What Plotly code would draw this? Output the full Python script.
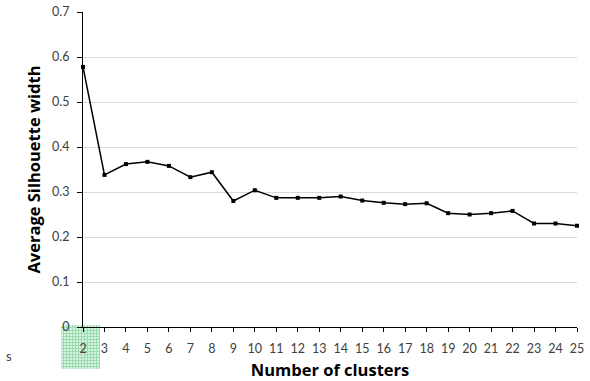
import base64
import plotly.graph_objects as go

# Average silhouette width for each number of clusters
clusters = list(range(2, 26))
silhouette = [0.578, 0.338, 0.362, 0.367, 0.358, 0.333, 0.344, 0.280,
              0.304, 0.287, 0.287, 0.287, 0.290, 0.281, 0.276, 0.273,
              0.275, 0.253, 0.250, 0.253, 0.258, 0.230, 0.230, 0.225]

y_ticks = [0, 0.1, 0.2, 0.3, 0.4, 0.5, 0.6, 0.7]
y_tick_labels = ["0", "0.1", "0.2", "0.3", "0.4", "0.5", "0.6", "0.7"]

TICK_FONT = "Lato"
TITLE_FONT = "Open Sans"
TICK_COLOR = "#404040"

fig = go.Figure()
fig.add_trace(go.Scatter(
    x=clusters, y=silhouette, mode="lines+markers",
    line=dict(color="#000000", width=1.5),
    marker=dict(symbol="square", size=4, color="#000000"),
    cliponaxis=False, showlegend=False,
))

# small green checked selection swatch under the first category
cell = 3
w, h = 39, 44
rects = []
for i in range(0, w, cell):
    for j in range(0, h, cell):
        rects.append(f'<rect x="{i}" y="{j}" width="2" height="2" fill="#d2f0db"/>')
svg = (f'<svg xmlns="http://www.w3.org/2000/svg" width="{w}" height="{h}">'
       f'<rect width="{w}" height="{h}" fill="#7fd39a"/>' + "".join(rects) + '</svg>')
uri = "data:image/svg+xml;base64," + base64.b64encode(svg.encode()).decode()

L, R, T, B = 83, 13, 12, 54
pw, ph = 590 - L - R, 381 - T - B
fig.add_layout_image(dict(
    source=uri, xref="paper", yref="paper",
    x=(61 - L) / pw, y=((381 - B) - 325) / ph,
    sizex=w / pw, sizey=h / ph, xanchor="left", yanchor="top",
    sizing="stretch", opacity=0.8, layer="below",
))

fig.add_annotation(text="s", xref="paper", yref="paper",
                   x=(4 - L) / pw, y=-(366 - (381 - B)) / ph,
                   showarrow=False, font=dict(family=TICK_FONT, size=13, color="#404040"))

fig.update_layout(
    width=590, height=381,
    margin=dict(l=L, r=R, t=T, b=B, autoexpand=False),
    paper_bgcolor="white", plot_bgcolor="white",
    font=dict(family=TICK_FONT, color=TICK_COLOR),
    xaxis=dict(
        range=[2, 25], tickvals=clusters, ticktext=[str(c) for c in clusters],
        ticks="outside", ticklen=4, tickcolor="#000000",
        showline=True, linecolor="#000000", linewidth=1.2,
        showgrid=False, zeroline=False, automargin=False,
        ticklabelstandoff=6,
        tickfont=dict(family=TICK_FONT, size=12.5, color=TICK_COLOR),
        title=dict(text="<b>Number of clusters</b>", standoff=10,
                   font=dict(family=TITLE_FONT, size=16.5, color="#000000")),
    ),
    yaxis=dict(
        range=[0, 0.7], tickvals=y_ticks, ticktext=y_tick_labels,
        ticks="outside", ticklen=5, tickcolor="#000000",
        showline=True, linecolor="#000000", linewidth=1.2,
        showgrid=True, gridcolor="#d9d9d9", gridwidth=1, zeroline=False,
        automargin=False, ticklabelstandoff=5,
        tickfont=dict(family=TICK_FONT, size=12.5, color=TICK_COLOR),
        title=dict(text="<b>Average Silhouette width</b>", standoff=7,
                   font=dict(family=TITLE_FONT, size=16.5, color="#000000")),
    ),
)

fig.write_html("out.html")
